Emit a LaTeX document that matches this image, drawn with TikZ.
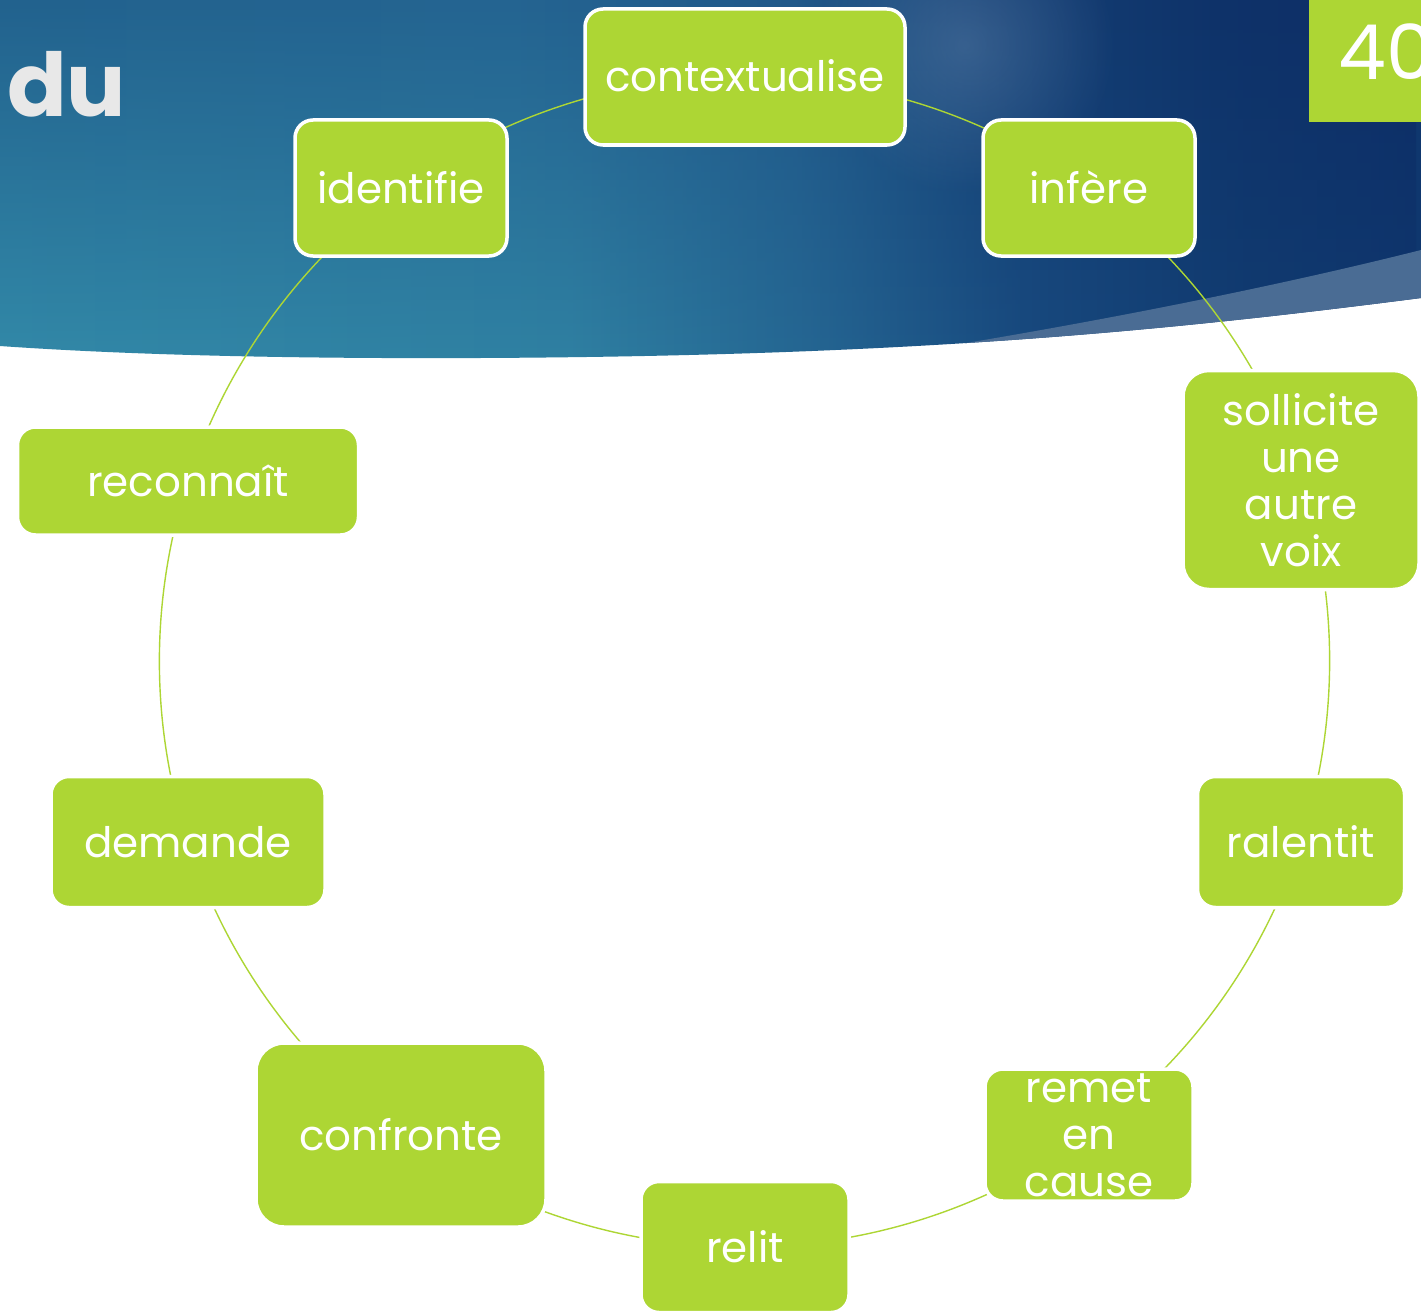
\documentclass[tikz,border=0pt]{standalone}
\usepackage{fontspec}
\setmainfont{Poppins}
\usetikzlibrary{fadings}
\definecolor{lime}{RGB}{173,214,52}
\definecolor{duGray}{RGB}{232,232,232}
\definecolor{sliver}{RGB}{74,108,148}
\definecolor{spot}{RGB}{95,130,170}
\definecolor{bA}{RGB}{50,137,168}
\definecolor{bB}{RGB}{47,128,162}
\definecolor{bC}{RGB}{36,100,145}
\definecolor{bD}{RGB}{24,74,127}
\definecolor{bE}{RGB}{17,60,113}
\definecolor{bF}{RGB}{15,55,110}
\definecolor{tA}{RGB}{34,98,142}
\definecolor{tB}{RGB}{36,100,145}
\definecolor{tC}{RGB}{32,88,137}
\definecolor{tD}{RGB}{21,64,117}
\definecolor{tE}{RGB}{14,50,105}
\definecolor{tF}{RGB}{13,45,102}
\pgfdeclarehorizontalshading{bannerbottom}{100bp}{color(0bp)=(bA); color(25bp)=(bA); color(45bp)=(bB); color(54bp)=(bC); color(61bp)=(bD); color(69bp)=(bE); color(75bp)=(bF); color(100bp)=(bF)}
\pgfdeclarehorizontalshading{bannertop}{100bp}{color(0bp)=(tA); color(25bp)=(tA); color(43bp)=(tB); color(53bp)=(tC); color(60bp)=(tD); color(68bp)=(tE); color(75bp)=(tF); color(100bp)=(tF)}
\tikzfading[name=topfade, top color=transparent!0, bottom color=transparent!100]
\tikzfading[name=spotfade, inner color=transparent!0, outer color=transparent!100]
\pgfdeclarelayer{back}
\pgfdeclarelayer{lines}
\pgfsetlayers{back,lines,main}
\newcommand\bannerpath{(0,0) -- (1421,0) -- (1421,298) .. controls (1150,333) and (900,356) .. (480,358) .. controls (250,359) and (100,353) .. (0,346) -- cycle}
\begin{document}
\begin{tikzpicture}[x=1pt,y=-1pt,
  box/.style={rounded corners=18pt, fill=lime, draw=white, line width=3.5pt, text=white,
    font=\fontsize{42}{47}\selectfont, inner sep=0pt},
  oneline/.style={text height=30pt, text depth=0pt},
  multi/.style={align=center},
  conn/.style={draw=lime, line width=1.4pt}]
\useasboundingbox (0,0) rectangle (1421,1311);
\begin{pgfonlayer}{back}
  \fill[white] (0,0) rectangle (1421,1311);
  \shade[shading=bannerbottom] \bannerpath;
  \shade[shading=bannertop, path fading=topfade] \bannerpath;
  \begin{scope}
    \clip \bannerpath;
    \fill[spot, path fading=spotfade, opacity=0.45] (965,45) circle (150);
    \fill[sliver] (930,349) .. controls (1120,318) and (1290,283) .. (1421,250) -- (1421,420) -- (930,420) -- cycle;
  \end{scope}
  \fill[lime] (1309,0) rectangle (1421,122);
\end{pgfonlayer}
\node[anchor=base west, text=white, font=\fontsize{76}{76}\selectfont, inner sep=0pt] (num) at (1338,80) {40};
\node[anchor=base west, text=duGray, font=\bfseries\fontsize{88}{88}\selectfont, inner sep=0pt] (du) at (7,117) {du};
% nodes on circle: center (745,662), radius 585
\node[box, oneline, minimum width=320pt, minimum height=136pt] (ctx) at (745,77) {contextualise};
\node[box, oneline, minimum width=212pt, minimum height=136pt] (inf) at (1089,188) {infère};
\node[box, multi, minimum width=236pt, minimum height=219pt, rounded corners=26pt] (sol) at (1301,480) {sollicite\\une\\autre\\voix};
\node[box, oneline, minimum width=207pt, minimum height=131pt] (ral) at (1301,842) {ralentit};
\node[box, multi, minimum width=208pt, minimum height=132pt] (rem) at (1089,1135) {remet\\en\\cause};
\node[box, oneline, minimum width=208pt, minimum height=131pt] (rel) at (745,1247) {relit};
\node[box, oneline, minimum width=290pt, minimum height=184pt, rounded corners=28pt] (con) at (401,1135) {confronte};
\node[box, oneline, minimum width=274pt, minimum height=131pt] (dem) at (188,842) {demande};
\node[box, oneline, minimum width=341pt, minimum height=108pt] (rec) at (188,481) {reconnaît};
\node[box, oneline, minimum width=212pt, minimum height=136pt] (ide) at (401,188) {identifie};
\begin{pgfonlayer}{lines}
  \draw[conn] (ctx.center) arc[start angle=270, end angle=306, radius=585];
  \draw[conn] (inf.center) arc[start angle=306, end angle=342, radius=585];
  \draw[conn] (sol.center) arc[start angle=342, end angle=378, radius=585];
  \draw[conn] (ral.center) arc[start angle=18, end angle=54, radius=585];
  \draw[conn] (rem.center) arc[start angle=54, end angle=90, radius=585];
  \draw[conn] (rel.center) arc[start angle=90, end angle=126, radius=585];
  \draw[conn] (con.center) arc[start angle=126, end angle=162, radius=585];
  \draw[conn] (dem.center) arc[start angle=162, end angle=198, radius=585];
  \draw[conn] (rec.center) arc[start angle=198, end angle=234, radius=585];
  \draw[conn] (ide.center) arc[start angle=234, end angle=270, radius=585];
\end{pgfonlayer}
\end{tikzpicture}
\end{document}
